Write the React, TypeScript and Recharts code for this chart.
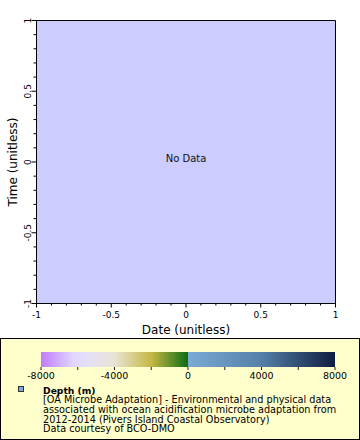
import { ComposedChart, Scatter, XAxis, YAxis, ReferenceArea, Label } from "recharts";

const FONT = "'DejaVu Sans', sans-serif";

// plot axes (unitless, no data loaded)
const plotDomain = [-1, 1];
const plotTicks = [-1, -0.9, -0.8, -0.7, -0.6, -0.5, -0.4, -0.3, -0.2, -0.1, 0, 0.1, 0.2, 0.3, 0.4, 0.5, 0.6, 0.7, 0.8, 0.9, 1];
const plotMajorTicks = [-1, -0.5, 0, 0.5, 1];
const depthPoints: { date: number; time: number }[] = [];

// colour bar
const depthDomain = [-8000, 8000];
const depthTicks = [-8000, -6000, -4000, -2000, 0, 2000, 4000, 6000, 8000];
const depthMajorTicks = [-8000, -4000, 0, 4000, 8000];
const depthSegments = [
  { from: -8000, to: 0, level: 1, grad: "depthNeg" },
  { from: 0, to: 8000, level: 1, grad: "depthPos" },
];

const legendTitle = "Depth (m)";
const legendLines = [
  "[OA Microbe Adaptation] - Environmental and physical data",
  "associated with ocean acidification microbe adaptation from",
  "2012-2014 (Pivers Island Coastal Observatory)",
  "Data courtesy of BCO-DMO",
];

const isMajor = (v: number, majors: number[]) => majors.some((m) => Math.abs(m - v) < 1e-9);

const XTick = (props: any) => {
  const { x, y, payload } = props;
  const major = isMajor(payload.value, plotMajorTicks);
  return (
    <g>
      <line x1={x} x2={x} y1={y} y2={y + (major ? 4 : 2)} stroke="#000" />
      {major && (
        <text x={x} y={y + 14} textAnchor="middle" fontSize={9} fontFamily={FONT} fill="#000">
          {String(payload.value)}
        </text>
      )}
    </g>
  );
};

const YTick = (props: any) => {
  const { x, y, payload } = props;
  const major = isMajor(payload.value, plotMajorTicks);
  return (
    <g>
      <line x1={x - (major ? 5 : 3)} x2={x} y1={y} y2={y} stroke="#000" />
      {major && (
        <text
          x={x - 6}
          y={y}
          transform={`rotate(-90, ${x - 6}, ${y})`}
          textAnchor="middle"
          fontSize={9}
          fontFamily={FONT}
          fill="#000"
        >
          {String(payload.value)}
        </text>
      )}
    </g>
  );
};

const DepthTick = (props: any) => {
  const { x, y, payload } = props;
  const major = isMajor(payload.value, depthMajorTicks);
  return (
    <g>
      <line x1={x} x2={x} y1={y} y2={y + 3} stroke="#222" />
      {major && (
        <text x={x} y={y + 12} textAnchor="middle" fontSize={9.5} fontFamily={FONT} fill="#000">
          {String(payload.value)}
        </text>
      )}
    </g>
  );
};

export default function App() {
  return (
    <div style={{ position: "absolute", left: 0, top: 0, width: 360, height: 440, background: "#fff", fontFamily: FONT }}>
      <ComposedChart
        width={360}
        height={340}
        data={depthPoints}
        margin={{ top: 20.5, right: 24.5, left: 0.5, bottom: 0 }}
      >
        <XAxis
          dataKey="date"
          type="number"
          domain={plotDomain}
          ticks={plotTicks}
          interval={0}
          allowDataOverflow
          height={36.5}
          tickSize={0}
          tickMargin={0}
          tickLine={false}
          tick={<XTick />}
          axisLine={{ stroke: "#000" }}
        >
          <Label value="Date (unitless)" position="insideBottom" offset={6.5} fontSize={12} fontFamily={FONT} fill="#000" />
        </XAxis>
        <YAxis
          dataKey="time"
          type="number"
          domain={plotDomain}
          ticks={plotTicks}
          interval={0}
          allowDataOverflow
          width={36}
          tickSize={0}
          tickMargin={0}
          tickLine={false}
          tick={<YTick />}
          axisLine={{ stroke: "#000" }}
        >
          <Label
            value="Time (unitless)"
            angle={-90}
            position="insideLeft"
            offset={12}
            fontSize={12}
            fontFamily={FONT}
            fill="#000"
            style={{ textAnchor: "middle" }}
          />
        </YAxis>
        <ReferenceArea x1={-1} x2={1} y1={-1} y2={1} fill="#ccccff" fillOpacity={1} stroke="#000" strokeWidth={1}>
          <Label value="No Data" position="center" dy={-4} fontSize={10} fontFamily={FONT} fill="#111" />
        </ReferenceArea>
        <Scatter data={depthPoints} fill="#7aaad6" isAnimationActive={false} />
      </ComposedChart>

      <div
        style={{
          position: "absolute",
          left: 0,
          top: 338,
          width: 360,
          height: 102,
          boxSizing: "border-box",
          border: "1px solid #000",
          background: "#ffffcc",
        }}
      />

      <div style={{ position: "absolute", left: 0, top: 338 }}>
        <ComposedChart width={360} height={50} data={depthSegments} margin={{ top: 14, right: 25, left: 41, bottom: 0 }}>
          <defs>
            <linearGradient id="depthNeg" x1="0" y1="0" x2="1" y2="0">
              <stop offset="0" stopColor="#c07cff" />
              <stop offset="0.22" stopColor="#e0d6ff" />
              <stop offset="0.32" stopColor="#e6e0f8" />
              <stop offset="0.5" stopColor="#e8e4d4" />
              <stop offset="0.75" stopColor="#c6b842" />
              <stop offset="1" stopColor="#0c6c14" />
            </linearGradient>
            <linearGradient id="depthPos" x1="0" y1="0" x2="1" y2="0">
              <stop offset="0" stopColor="#7aaad6" />
              <stop offset="0.5" stopColor="#5580a8" />
              <stop offset="1" stopColor="#0e1c3e" />
            </linearGradient>
          </defs>
          <XAxis
            dataKey="from"
            type="number"
            domain={depthDomain}
            ticks={depthTicks}
            interval={0}
            allowDataOverflow
            height={21}
            tickSize={0}
            tickMargin={0}
            tickLine={false}
            axisLine={false}
            tick={<DepthTick />}
          />
          <YAxis dataKey="level" type="number" domain={[0, 1]} allowDataOverflow hide />
          {depthSegments.map((s) => (
            <ReferenceArea
              key={s.grad}
              x1={s.from}
              x2={s.to}
              y1={0}
              y2={1}
              fill={`url(#${s.grad})`}
              fillOpacity={1}
              stroke="none"
            />
          ))}
          <Scatter dataKey="level" fill="none" isAnimationActive={false} shape={() => <g />} />
        </ComposedChart>
      </div>

      <div
        style={{
          position: "absolute",
          left: 18,
          top: 386,
          width: 6,
          height: 6,
          boxSizing: "border-box",
          border: "1px solid #333",
          background: "#7aaad6",
        }}
      />
      <div
        style={{
          position: "absolute",
          left: 43,
          top: 385.5,
          fontSize: 9.7,
          lineHeight: "9.7px",
          color: "#000",
          whiteSpace: "nowrap",
        }}
      >
        <div style={{ fontWeight: "bold", fontSize: 9.2 }}>{legendTitle}</div>
        {legendLines.map((l) => (
          <div key={l}>{l}</div>
        ))}
      </div>
    </div>
  );
}
